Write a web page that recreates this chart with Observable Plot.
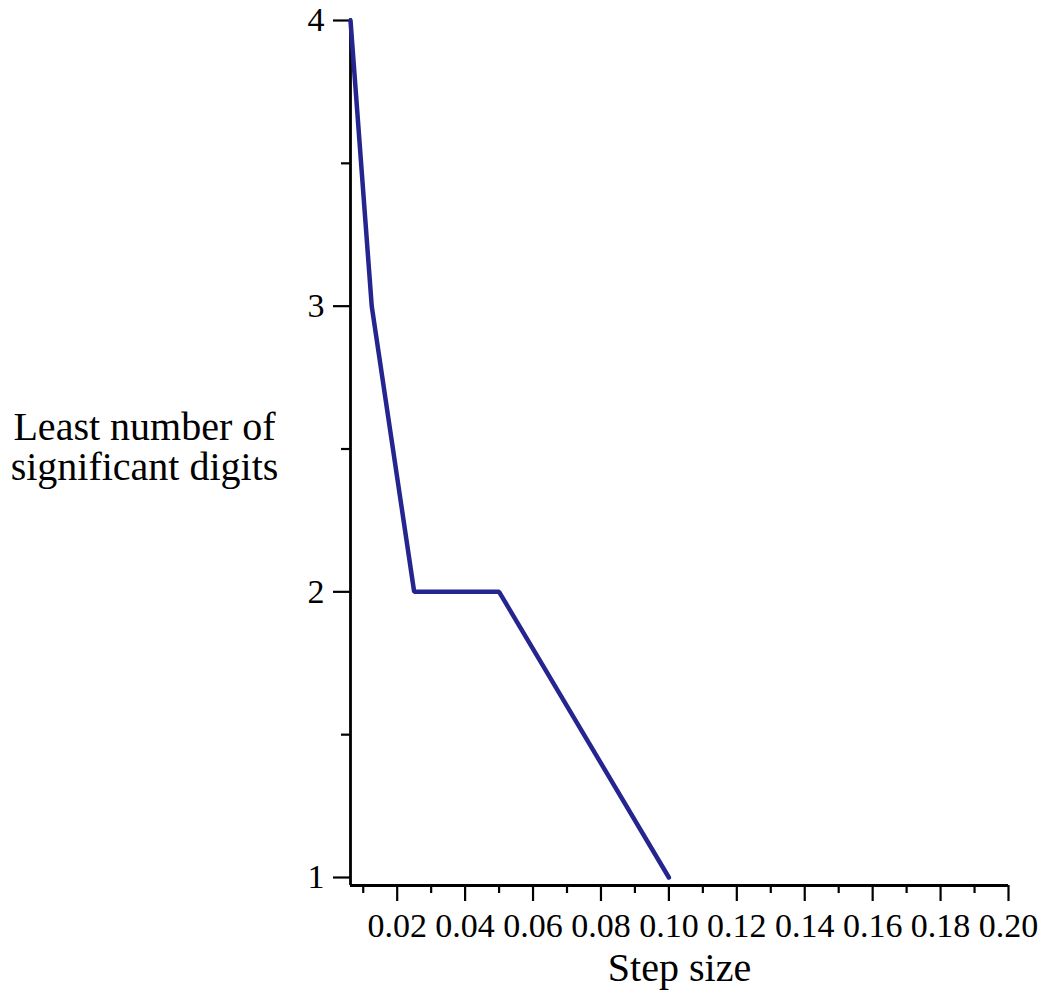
<!DOCTYPE html>
<html>
<head>
<meta charset="utf-8">
<script src="https://cdn.jsdelivr.net/npm/d3@7"></script>
<script src="https://cdn.jsdelivr.net/npm/@observablehq/plot@0.6"></script>
<style>
  html, body { margin: 0; padding: 0; background: #fff; }
</style>
</head>
<body>
<div id="chart"></div>
<script>
const stepSizes = [0.00625, 0.0125, 0.025, 0.05, 0.1];
const leastDigits = [4, 3, 2, 2, 1];
const xMajorTicks = [0.02, 0.04, 0.06, 0.08, 0.10, 0.12, 0.14, 0.16, 0.18, 0.20];
const xMinorTicks = [0.01, 0.03, 0.05, 0.07, 0.09, 0.11, 0.13, 0.15, 0.17, 0.19];
const yMajorTicks = [1, 2, 3, 4];
const yMinorTicks = [1.5, 2.5, 3.5];
const xTitle = "Step size";
const yTitle = "Least number of\nsignificant digits";

const data = stepSizes.map((s, i) => ({step: s, digits: leastDigits[i]}));
const xDomain = [0.00625, 0.2];
const yDomain = [0.972, 4];

const font = "'Liberation Serif', 'Times New Roman', serif";

const plot = Plot.plot({
  width: 1042,
  height: 993,
  marginLeft: 350,
  marginRight: 34,
  marginTop: 20,
  marginBottom: 108,
  style: {fontFamily: font, fontSize: "34px", color: "#000", background: "#fff"},
  x: {domain: xDomain},
  y: {domain: yDomain},
  marks: [
    Plot.axisX({ticks: xMinorTicks, tickSize: 8, strokeWidth: 2.2, label: null, text: null}),
    Plot.axisX({ticks: xMajorTicks, tickSize: 16, strokeWidth: 2.2, tickPadding: 11, tickFormat: d3.format(".2f"), label: null, fontSize: 34}),
    Plot.axisY({ticks: yMinorTicks, tickSize: 9, strokeWidth: 2.2, text: null, label: null}),
    Plot.axisY({ticks: yMajorTicks, tickSize: 17, strokeWidth: 2.2, tickPadding: 9, tickFormat: d3.format("d"), label: null, fontSize: 34}),
    Plot.ruleY([yDomain[0]], {stroke: "#000", strokeWidth: 2.8}),
    Plot.ruleX([xDomain[0]], {stroke: "#000", strokeWidth: 2.8, y1: yDomain[0], y2: 4.006}),
    Plot.line(data, {x: "step", y: "digits", stroke: "#25258f", strokeWidth: 4.5, strokeLinejoin: "miter"}),
    Plot.text([xTitle], {frameAnchor: "bottom", lineAnchor: "middle", dy: 83, fontSize: 40, fill: "#000"}),
    Plot.text([yTitle], {frameAnchor: "left", lineAnchor: "middle", dx: -206, dy: -6, fontSize: 40, lineHeight: 1.0, textAnchor: "middle", fill: "#000"})
  ]
});
document.getElementById("chart").appendChild(plot);
</script>
</body>
</html>
